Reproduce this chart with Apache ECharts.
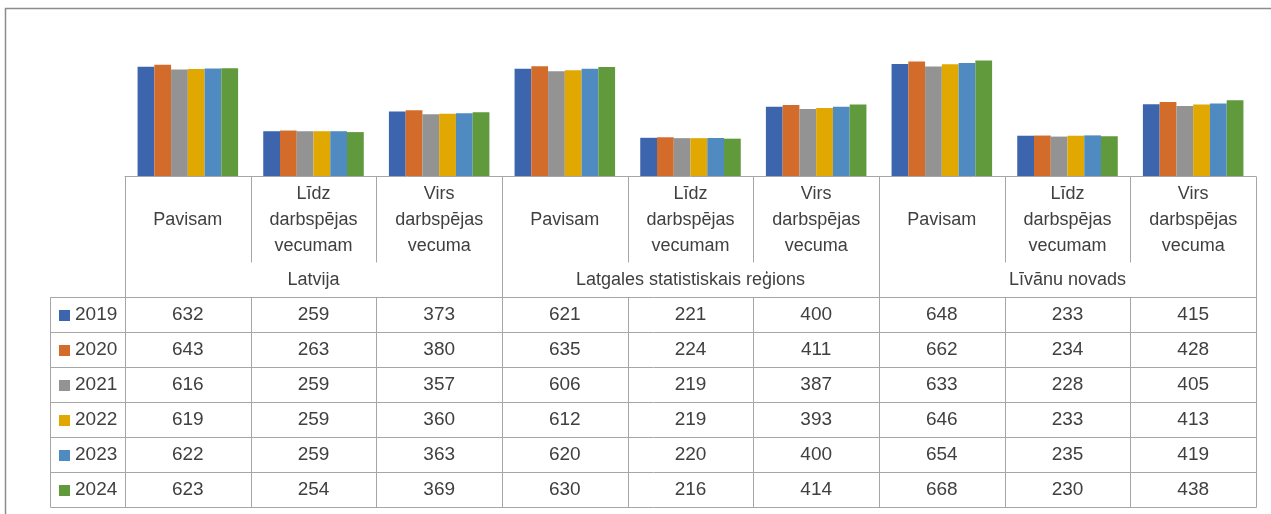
<!DOCTYPE html>
<html>
<head>
<meta charset="utf-8">
<script src="https://cdn.jsdelivr.net/npm/echarts@6/dist/echarts.min.js"></script>
<style>
  html, body { margin: 0; padding: 0; background: #fff; }
  #main { width: 1271px; height: 514px; }
</style>
</head>
<body>
<div id="main"></div>
<script>
// kategorijas (apakšējā līmeņa) un grupas
var categories = ['Pavisam', 'Līdz\ndarbspējas\nvecumam', 'Virs\ndarbspējas\nvecuma',
  'Pavisam', 'Līdz\ndarbspējas\nvecumam', 'Virs\ndarbspējas\nvecuma',
  'Pavisam', 'Līdz\ndarbspējas\nvecumam', 'Virs\ndarbspējas\nvecuma'];
var groups = ['Latvija', 'Latgales statistiskais reģions', 'Līvānu novads'];
var years = ['2019', '2020', '2021', '2022', '2023', '2024'];

var v2019 = [632, 259, 373, 621, 221, 400, 648, 233, 415];
var v2020 = [643, 263, 380, 635, 224, 411, 662, 234, 428];
var v2021 = [616, 259, 357, 606, 219, 387, 633, 228, 405];
var v2022 = [619, 259, 360, 612, 219, 393, 646, 233, 413];
var v2023 = [622, 259, 363, 620, 220, 400, 654, 235, 419];
var v2024 = [623, 254, 369, 630, 216, 414, 668, 230, 438];
var values = [v2019, v2020, v2021, v2022, v2023, v2024];

var colors = ['#3d65ae', '#d36c2b', '#939393', '#e0a800', '#4f8bc0', '#609a3d'];

var chartDom = document.getElementById('main');
var myChart = echarts.init(chartDom);

var lineColor = '#a6a6a6';
var textColor = '#404040';
var fontFamily = '"Liberation Sans", Arial, sans-serif';

var option = {
  animation: false,
  color: colors,
  grid: { left: 125, right: 15, top: 55, bottom: 338 },
  xAxis: {
    type: 'category',
    data: categories,
    axisLine: { show: true, lineStyle: { color: lineColor, width: 1 } },
    axisTick: { show: false },
    axisLabel: { show: false }
  },
  yAxis: {
    type: 'value',
    min: 0,
    max: 700,
    show: false,
    splitLine: { show: false }
  },
  series: years.map(function (y, i) {
    return {
      name: y,
      type: 'bar',
      data: values[i],
      barGap: 0,
      barCategoryGap: '20%'
    };
  })
};
myChart.setOption(option);

// tabulas līnijas un teksti, pozīcijas no ass
var g = [];
var c0 = myChart.convertToPixel({ xAxisIndex: 0 }, 0);
var c1 = myChart.convertToPixel({ xAxisIndex: 0 }, 1);
var bw = c1 - c0;
var xl = c0 - bw / 2;
var xr = xl + bw * categories.length;
var yBase = myChart.convertToPixel({ yAxisIndex: 0 }, 0);
var yInner = 262;
var yHead = 297;
var rowH = 35;
var yEnd = yHead + rowH * years.length;
var tableLeft = 50;

function px(v) { return Math.round(v) + 0.5; }
function line(x1, y1, x2, y2) {
  g.push({
    type: 'line', silent: true,
    shape: { x1: px(x1), y1: px(y1), x2: px(x2), y2: px(y2) },
    style: { stroke: lineColor, lineWidth: 1 }
  });
}
function text(x, y, s, size) {
  g.push({
    type: 'text', silent: true, x: x, y: y,
    style: {
      text: s, fill: textColor, font: size + 'px ' + fontFamily,
      align: 'center', verticalAlign: 'middle', lineHeight: 26
    }
  });
}

// outer frame
g.push({
  type: 'rect', silent: true,
  shape: { x: 5.5, y: 8.5, width: 1300, height: 600 },
  style: { fill: null, stroke: '#8c8c8c', lineWidth: 1.5 }
});

// vertical separators
for (var i = 0; i <= categories.length; i++) {
  var x = xl + bw * i;
  if (i % 3 === 0) {
    line(x, yBase, x, yEnd);
  } else {
    line(x, yBase, x, yInner);
    line(x, yHead, x, yEnd);
  }
}
line(tableLeft, yHead, tableLeft, yEnd);
for (var r = 0; r <= years.length; r++) {
  line(tableLeft, yHead + rowH * r, xr, yHead + rowH * r);
}

// category labels
categories.forEach(function (c, i) {
  text(xl + bw * (i + 0.5), 220, c, 18);
});
groups.forEach(function (gr, i) {
  text(xl + bw * (i * 3 + 1.5), 280, gr, 18);
});

// data rows with legend keys
years.forEach(function (y, r) {
  var yc = yHead + rowH * r + rowH / 2;
  g.push({
    type: 'rect', silent: true,
    shape: { x: 59, y: Math.round(yc) - 5, width: 11, height: 11 },
    style: { fill: colors[r] }
  });
  g.push({
    type: 'text', silent: true, x: 75, y: yc,
    style: { text: y, fill: textColor, font: '19px ' + fontFamily, align: 'left', verticalAlign: 'middle' }
  });
  values[r].forEach(function (v, i) {
    text(xl + bw * (i + 0.5), yc, String(v), 19);
  });
});

myChart.setOption({ graphic: g });

window.onresize = function () {
  myChart.resize();
};
</script>
</body>
</html>
